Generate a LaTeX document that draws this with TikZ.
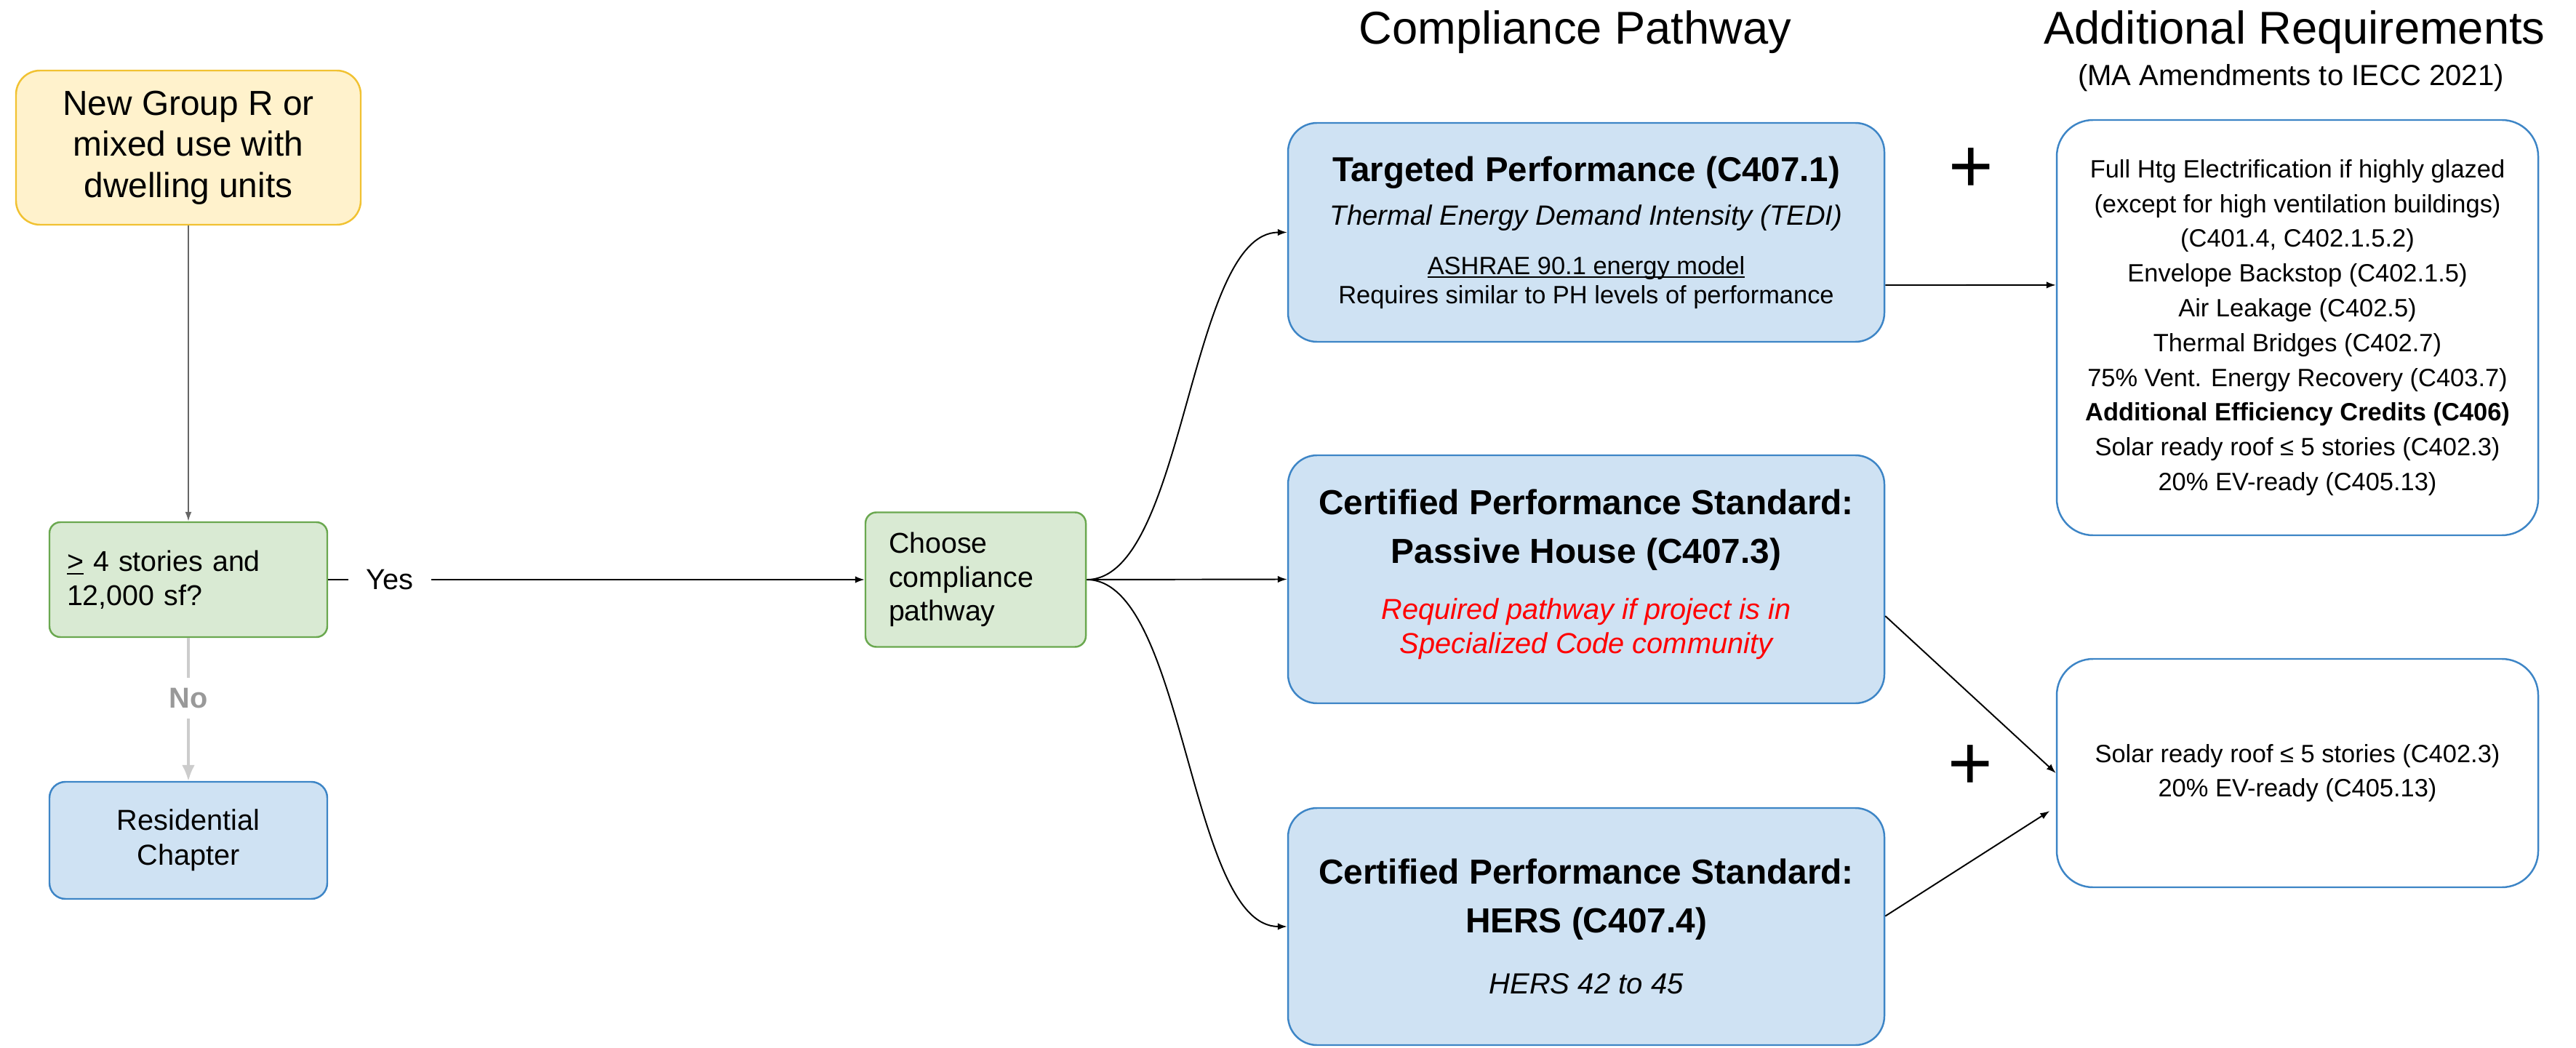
\documentclass[tikz,border=0pt]{standalone}
\usepackage{fontspec}
\setmainfont{Liberation Sans}
\usetikzlibrary{arrows.meta}

\definecolor{ylwfill}{HTML}{FFF2CC}
\definecolor{ylwline}{HTML}{F1C232}
\definecolor{grnfill}{HTML}{D9EAD3}
\definecolor{grnline}{HTML}{6AA84F}
\definecolor{blufill}{HTML}{CFE2F3}
\definecolor{bluline}{HTML}{3D85C6}
\definecolor{arrgray}{HTML}{666666}
\definecolor{nogray}{HTML}{CCCCCC}
\definecolor{nolabel}{HTML}{999999}
\definecolor{reqred}{HTML}{FF0000}

\newcommand{\fsz}[2]{\fontsize{#1}{#2}\selectfont}
\newcommand{\undl}[1]{\setbox0\hbox{#1}\rlap{\rule[-1.3pt]{\wd0}{0.55pt}}#1}

\tikzset{
  flowbox/.style={rectangle, draw, line width=0.7pt, inner sep=0pt, align=center, text=black},
  ylwbox/.style={flowbox, draw=ylwline, fill=ylwfill, rounded corners=0.33cm},
  grnbox/.style={flowbox, draw=grnline, fill=grnfill, align=left, rounded corners=0.15cm},
  blubox/.style={flowbox, draw=bluline, fill=blufill, rounded corners=0.4cm},
  reqbox/.style={flowbox, draw=bluline, fill=white, rounded corners=0.5cm},
  conn/.style={-{Latex[length=1.3mm,width=0.95mm]}, line width=0.55pt, black},
  plussign/.style={font=\fsz{30}{36}, inner sep=0pt}
}

\begin{document}
\begin{tikzpicture}
\useasboundingbox (0,0) rectangle (35.42,-14.41);

% headings
\node[anchor=base, font=\fsz{18}{21}] (hdpath) at (21.66,-0.61) {Compliance Pathway};
\node[anchor=base, font=\fsz{18}{21}] (hdreq) at (31.55,-0.61) {Additional Requirements};
\node[anchor=base, font=\fsz{11.4}{13}] (hdma) at (31.50,-1.18) {(MA Amendments to IECC 2021)};

% left column
\node[ylwbox, minimum width=4.74cm, minimum height=2.12cm, font=\fsz{13.6}{16.1}] (newR) at (2.59,-2.03)
  {New Group R or\\mixed use with\\dwelling units};
\node[grnbox, text width=3.34cm, inner xsep=0.24cm, minimum height=1.58cm, font=\fsz{11.2}{13.4}] (tall) at (2.59,-7.97)
  {\undl{>} 4 stories and\\12,000 sf?};
\node[blubox, rounded corners=0.22cm, minimum width=3.82cm, minimum height=1.61cm, font=\fsz{11.3}{13.7}] (resid) at (2.59,-11.555)
  {Residential\\Chapter};
\node[grnbox, text width=2.39cm, inner xsep=0.32cm, minimum height=1.85cm, font=\fsz{11.2}{13.3}] (choose) at (13.415,-7.97)
  {Choose\\compliance\\pathway};

% pathways
\node[blubox, minimum width=8.2cm, minimum height=3.01cm, font=\fsz{9.8}{11.4}] (targ) at (21.81,-3.195)
  {{\fsz{13.5}{16}\bfseries Targeted Performance (C407.1)}\\[5.7pt]
   {\fsz{10.9}{13}\itshape Thermal Energy Demand Intensity (TEDI)}\\[7.9pt]
   \undl{ASHRAE 90.1 energy model}\\
   Requires similar to PH levels of performance};
\node[blubox, minimum width=8.2cm, minimum height=3.41cm, font=\fsz{11.3}{13.4}] (phouse) at (21.81,-7.965)
  {{\fsz{13.6}{16}\bfseries Certified Performance Standard:}\\[5.7pt]
   {\fsz{13.6}{16}\bfseries Passive House (C407.3)}\\[8.5pt]
   {\color{reqred}\itshape Required pathway if project is in}\\
   {\color{reqred}\itshape Specialized Code community}\rule[-6pt]{0pt}{0pt}};
\node[blubox, minimum width=8.2cm, minimum height=3.26cm, font=\fsz{11.4}{13.4}] (hers) at (21.81,-12.74)
  {{\fsz{13.6}{16}\bfseries Certified Performance Standard:}\\[5.7pt]
   {\fsz{13.6}{16}\bfseries HERS (C407.4)}\\[10.5pt]
   {\itshape HERS 42 to 45}};

% requirements
\node[reqbox, minimum width=6.62cm, minimum height=5.71cm, font=\fsz{9.8}{13.6}] (addreq) at (31.59,-4.505)
  {Full Htg Electrification if highly glazed\\
   (except for high ventilation buildings)\\
   (C401.4, C402.1.5.2)\\
   Envelope Backstop (C402.1.5)\\
   Air Leakage (C402.5)\\
   Thermal Bridges (C402.7)\\
   75\% Vent. Energy Recovery (C403.7)\\
   \textbf{Additional Efficiency Credits (C406)}\\
   Solar ready roof ≤ 5 stories (C402.3)\\
   20\% EV-ready (C405.13)};
\node[reqbox, minimum width=6.62cm, minimum height=3.14cm, font=\fsz{9.8}{13.6}] (solar) at (31.59,-10.63)
  {Solar ready roof ≤ 5 stories (C402.3)\\
   20\% EV-ready (C405.13)};

\node[plussign] (plusA) at (27.10,-2.34) {+};
\node[plussign] (plusB) at (27.09,-10.55) {+};

% connectors
\draw[-{Latex[length=1.3mm,width=0.9mm]}, arrgray, line width=0.5pt] (newR.south) -- (tall.north);
\draw[-{Latex[length=2.2mm,width=1.8mm]}, nogray, line width=0.9pt] (tall.south) --
  node[pos=0.42, fill=white, text=nolabel, font=\fsz{11.3}{13}\bfseries, inner xsep=0.1cm, inner ysep=0.14cm] (nolbl) {No} (resid.north);
\draw[conn] (tall.east) --
  node[pos=0.115, fill=white, font=\fsz{11.3}{13}, inner xsep=0.25cm, inner ysep=0.1cm] (yeslbl) {Yes} (choose.west);
\draw[conn] (choose.east) to[out=0, in=180, looseness=0.63] (targ.west);
\draw[conn] (choose.east) -- (phouse.west);
\draw[conn] (choose.east) to[out=0, in=180, looseness=0.63] (hers.west);
\draw[conn] (targ.-10) -- (addreq.170);
\draw[conn] (phouse.-7) -- (solar.west);
\draw[conn, shorten >=0.1cm] (hers.2) -- (solar.188);
\end{tikzpicture}
\end{document}
